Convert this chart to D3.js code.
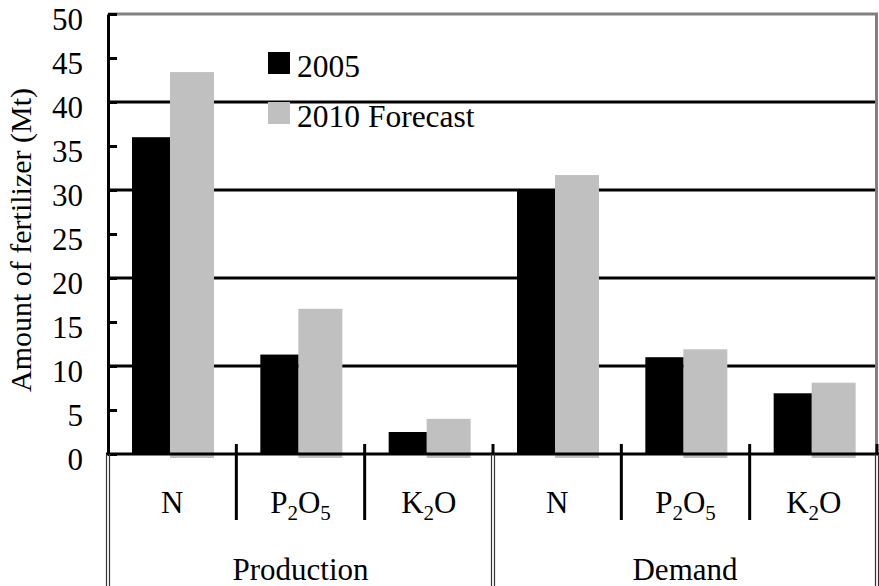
<!DOCTYPE html>
<html>
<head>
<meta charset="utf-8">
<script src="https://cdn.jsdelivr.net/npm/d3@7"></script>
<style>
  body { margin: 0; background: #fff; }
  svg text { font-family: "Liberation Serif", "Times New Roman", serif; fill: #000; }
</style>
</head>
<body>
<div id="chart"></div>
<script>
const groups = ["Production", "Demand"];
const nutrients = [
  { label: "N", sub1: "", mid: "", sub2: "" },
  { label: "P", sub1: "2", mid: "O", sub2: "5" },
  { label: "K", sub1: "2", mid: "O", sub2: "" }
];
const seriesNames = ["2005", "2010 Forecast"];
const values2005 = [36.0, 11.3, 2.5, 30.0, 11.0, 6.9];
const values2010 = [43.4, 16.5, 4.0, 31.7, 11.9, 8.1];
const yTicks = [0, 5, 10, 15, 20, 25, 30, 35, 40, 45, 50];
const gridValues = [10, 20, 30, 40];

const width = 879;
const height = 586;
const margin = { left: 108, right: 1, top: 14, bottom: 132 };
const fontSize = 31;

const categories = [];
groups.forEach(g => nutrients.forEach((n, i) => categories.push({ key: g + i, group: g, n: n })));

const svg = d3.select('#chart')
  .append('svg')
    .attr('width', width)
    .attr('height', height)
    .attr('font-family', '"Liberation Serif", serif');

const x = d3.scaleBand()
  .domain(categories.map(d => d.key))
  .range([margin.left, width - margin.right])
  .padding(0);

const xSeries = d3.scaleBand()
  .domain(seriesNames)
  .range([24, 106]);

const y = d3.scaleLinear()
  .domain([0, 50])
  .range([height - margin.bottom, margin.top]);

// gridlines
svg.append('g')
  .selectAll('line')
  .data(gridValues)
  .join('line')
    .attr('x1', margin.left)
    .attr('x2', width - margin.right - 2)
    .attr('y1', d => y(d))
    .attr('y2', d => y(d))
    .attr('stroke', '#000')
    .attr('stroke-width', 3);

// top and right frame
svg.append('path')
  .attr('d', `M${margin.left},${y(50)}H${width - 2.5}V${y(0)}`)
  .attr('fill', 'none')
  .attr('stroke', '#808080')
  .attr('stroke-width', 3);

const bars = categories.map((c, i) => ({ key: c.key, v1: values2005[i], v2: values2010[i] }));

// bars
const barGroups = svg.append('g')
  .selectAll('g')
  .data(bars)
  .join('g')
    .attr('transform', d => `translate(${x(d.key)},0)`);

barGroups.append('rect')
  .attr('x', xSeries(seriesNames[1]) - 3)
  .attr('width', xSeries.bandwidth() + 3)
  .attr('y', d => y(d.v2))
  .attr('height', d => y(0) - y(d.v2) + 4)
  .attr('fill', '#c0c0c0');

barGroups.append('rect')
  .attr('x', xSeries(seriesNames[0]))
  .attr('width', xSeries.bandwidth() - 3)
  .attr('y', d => y(d.v1))
  .attr('height', d => y(0) - y(d.v1))
  .attr('fill', '#000');

// y axis
const yAxis = d3.axisLeft(y)
  .tickValues(yTicks)
  .tickSizeInner(-9)
  .tickSizeOuter(0)
  .tickPadding(25)
  .tickFormat(d3.format('d'));

const yAxisG = svg.append('g')
  .attr('transform', `translate(${margin.left},0)`)
  .call(yAxis)
  .attr('font-family', '"Liberation Serif", serif')
  .attr('font-size', fontSize);
yAxisG.select('.domain').attr('stroke', '#000').attr('stroke-width', 3);
yAxisG.selectAll('.tick line').attr('stroke', '#000').attr('stroke-width', 3);
yAxisG.selectAll('.tick text').attr('dy', '0.5em');

// baseline
svg.append('line')
  .attr('x1', margin.left - 2)
  .attr('x2', width)
  .attr('y1', y(0))
  .attr('y2', y(0))
  .attr('stroke', '#000')
  .attr('stroke-width', 3);

// category separators
const groupBounds = [0, 3, 6].map(i => i < 6 ? x(categories[i].key) : width - margin.right - 1);
const catBounds = [1, 2, 4, 5].map(i => x(categories[i].key));

svg.append('g')
  .selectAll('line')
  .data(catBounds)
  .join('line')
    .attr('x1', d => d)
    .attr('x2', d => d)
    .attr('y1', y(0) - 10)
    .attr('y2', 520)
    .attr('stroke', '#000')
    .attr('stroke-width', 3);

const dbl = svg.append('g');
groupBounds.forEach((gx, i) => {
  dbl.append('line')
    .attr('x1', gx).attr('x2', gx)
    .attr('y1', y(0) - 10).attr('y2', y(0))
    .attr('stroke', '#000').attr('stroke-width', i === 0 ? 0 : 3);
  [-1.5, 1.5].forEach(o => {
    dbl.append('line')
      .attr('x1', gx + o).attr('x2', gx + o)
      .attr('y1', y(0)).attr('y2', height)
      .attr('stroke', '#333').attr('stroke-width', 1.2);
  });
});

// category labels
const catLabels = svg.append('g')
  .selectAll('text')
  .data(categories)
  .join('text')
    .attr('x', d => x(d.key) + x.bandwidth() / 2)
    .attr('y', 513)
    .attr('text-anchor', 'middle')
    .attr('font-size', fontSize);

catLabels.append('tspan').text(d => d.n.label);
catLabels.filter(d => d.n.sub1).append('tspan')
  .attr('font-size', 21).attr('dy', 7).text(d => d.n.sub1);
catLabels.filter(d => d.n.mid).append('tspan')
  .attr('dy', -7).text(d => d.n.mid);
catLabels.filter(d => d.n.sub2).append('tspan')
  .attr('font-size', 21).attr('dy', 7).text(d => d.n.sub2);

// group labels
svg.append('g')
  .selectAll('text')
  .data(groups)
  .join('text')
    .attr('x', (d, i) => (groupBounds[i] + groupBounds[i + 1]) / 2)
    .attr('y', 580)
    .attr('text-anchor', 'middle')
    .attr('font-size', fontSize)
    .text(d => d);

// y axis title
svg.append('text')
  .attr('transform', `translate(31,${(y(0) + y(50)) / 2 + 6}) rotate(-90)`)
  .attr('text-anchor', 'middle')
  .attr('font-size', 30)
  .text('Amount of fertilizer (Mt)');

// legend
const legendColors = ['#000', '#c0c0c0'];
const legend = svg.append('g')
  .selectAll('g')
  .data(seriesNames)
  .join('g')
    .attr('transform', (d, i) => `translate(268,${52 + i * 50})`);

legend.append('rect')
  .attr('width', 22)
  .attr('height', 22)
  .attr('fill', (d, i) => legendColors[i]);

legend.append('text')
  .attr('x', 29)
  .attr('y', 25)
  .attr('font-size', 31.5)
  .text(d => d);
</script>
</body>
</html>
